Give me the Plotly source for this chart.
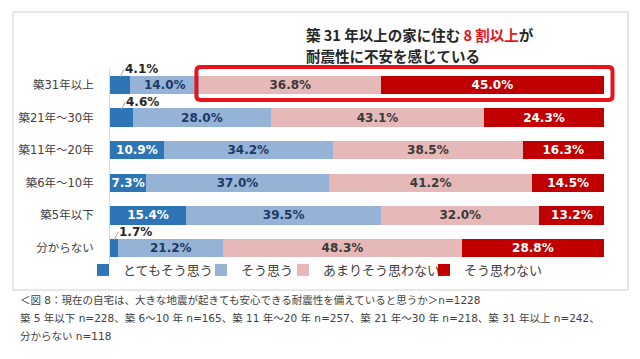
import plotly.graph_objects as go

categories = ["築31年以上", "築21年～30年", "築11年～20年", "築6年～10年", "築5年以下", "分からない"]
series_names = ["とてもそう思う", "そう思う", "あまりそう思わない", "そう思わない"]
v_very = [4.1, 4.6, 10.9, 7.3, 15.4, 1.7]
v_yes = [14.0, 28.0, 34.2, 37.0, 39.5, 21.2]
v_notmuch = [36.8, 43.1, 38.5, 41.2, 32.0, 48.3]
v_no = [45.0, 24.3, 16.3, 14.5, 13.2, 28.8]

series_values = [v_very, v_yes, v_notmuch, v_no]
colors = ["#2E75B6", "#95B3D7", "#E6B9B8", "#C00000"]
text_colors = ["#FFFFFF", "#1F3864", "#3A3A3A", "#FFFFFF"]
legend_ids = ["legend", "legend2", "legend3", "legend4"]
legend_text_x = [123, 241, 323, 464]

W, H = 640, 359
XD = (110 / W, 604 / W)
NUM_FONT = "DejaVu Sans"
JP_FONT = "Noto Sans CJK JP"
MIX_FONT = "DejaVu Sans, Noto Sans CJK JP"

fig = go.Figure()

for name, vals, c, tc, lg in zip(series_names, series_values, colors, text_colors, legend_ids):
    texts = [f"{v:.1f}%" if v >= 5 else "" for v in vals]
    fig.add_trace(go.Bar(
        y=categories, x=vals, name=name, orientation="h",
        marker=dict(color=c, line=dict(width=0)),
        text=texts, textposition="inside", insidetextanchor="middle",
        constraintext="none",
        textfont=dict(color=tc, size=12, family=NUM_FONT, weight="bold"),
        width=0.56, legend=lg,
    ))

# small-value labels with leader lines
for cat, v in zip(categories, v_very):
    if v < 5:
        fig.add_annotation(
            x=v / 2, y=cat, xref="x", yref="y", yshift=8,
            text=f"<b>{v:.1f}%</b>", showarrow=True, arrowhead=0,
            arrowwidth=1, arrowcolor="#A6A6A6", ax=4, ay=-8, standoff=0,
            xanchor="left", yanchor="middle", borderpad=0,
            font=dict(size=12, color="#262626", family=NUM_FONT),
        )

# outer frame
fig.add_shape(type="rect", xref="paper", yref="paper",
              x0=13 / W, x1=628 / W, y0=1 - 290 / H, y1=1 - 12 / H,
              line=dict(color="#D0D0D0", width=1), layer="above")

def xpaper(v):
    return XD[0] + (XD[1] - XD[0]) * v / 100.0

# highlight box (rounded) around the "not confident" share of the first row
bx0 = xpaper(v_very[0] + v_yes[0]) * W - 3
bx1 = xpaper(v_very[0] + v_yes[0] + v_notmuch[0] + v_no[0]) * W + 9
by0, by1 = 67.0, 100.0  # pixel rows, top / bottom
r = 4.0
def P(x, y):
    return f"{x / W:.5f},{1 - y / H:.5f}"
path = (f"M {P(bx0 + r, by0)} L {P(bx1 - r, by0)} Q {P(bx1, by0)} {P(bx1, by0 + r)} "
        f"L {P(bx1, by1 - r)} Q {P(bx1, by1)} {P(bx1 - r, by1)} "
        f"L {P(bx0 + r, by1)} Q {P(bx0, by1)} {P(bx0, by1 - r)} "
        f"L {P(bx0, by0 + r)} Q {P(bx0, by0)} {P(bx0 + r, by0)} Z")
fig.add_shape(type="path", xref="paper", yref="paper", path=path,
              line=dict(color="#E8141B", width=4))

# headline (two lines)
fig.add_annotation(
    xref="paper", yref="paper", x=304 / W, y=1 - 34 / H, xanchor="left", yanchor="middle",
    showarrow=False,
    text="<b>築 31 年以上の家に住む <span style='color:#E8141B'>8 割以上</span>が</b>",
    font=dict(size=14.5, color="#262626", family=JP_FONT),
)
fig.add_annotation(
    xref="paper", yref="paper", x=304 / W, y=1 - 55.5 / H, xanchor="left", yanchor="middle",
    showarrow=False, text="<b>耐震性に不安を感じている</b>",
    font=dict(size=14.5, color="#262626", family=JP_FONT),
)

# footnote
notes = [
    "＜図 8：現在の自宅は、大きな地震が起きても安心できる耐震性を備えていると思うか＞n=1228",
    "築 5 年以下 n=228、築 6～10 年 n=165、築 11 年～20 年 n=257、築 21 年～30 年 n=218、築 31 年以上 n=242、",
    "分からない n=118",
]
for i, t in enumerate(notes):
    fig.add_annotation(xref="paper", yref="paper", x=18 / W, y=1 - (300 + 18 * i) / H,
                       xanchor="left", yanchor="middle", showarrow=False, text=t,
                       font=dict(size=10.5, color="#404040", family=MIX_FONT))

legend_layout = {}
for lg, tx in zip(legend_ids, legend_text_x):
    legend_layout[lg] = dict(
        orientation="h", x=(tx - 40) / W, y=1 - 270 / H, xanchor="left", yanchor="middle",
        font=dict(size=13, color="#404040", family=JP_FONT), itemwidth=30,
        bgcolor="rgba(0,0,0,0)", borderwidth=0,
    )

fig.update_layout(
    width=W, height=H, margin=dict(l=0, r=0, t=0, b=0),
    paper_bgcolor="white", plot_bgcolor="white",
    barmode="stack",
    font=dict(family=JP_FONT, color="#404040"),
    xaxis=dict(domain=list(XD), range=[0, 100], visible=False),
    yaxis=dict(domain=[1 - 264.3 / H, 1 - 68.7 / H], categoryorder="array",
               categoryarray=categories, range=[5.5, -0.5],
               showline=True, linecolor="#D9D9D9", linewidth=1,
               ticks="", ticklabelstandoff=13,
               tickfont=dict(size=11.5, color="#404040", family=MIX_FONT)),
    showlegend=True,
    **legend_layout,
)

fig.write_html("out.html", config={"displayModeBar": False},
               post_script="document.body.style.margin='0';")
